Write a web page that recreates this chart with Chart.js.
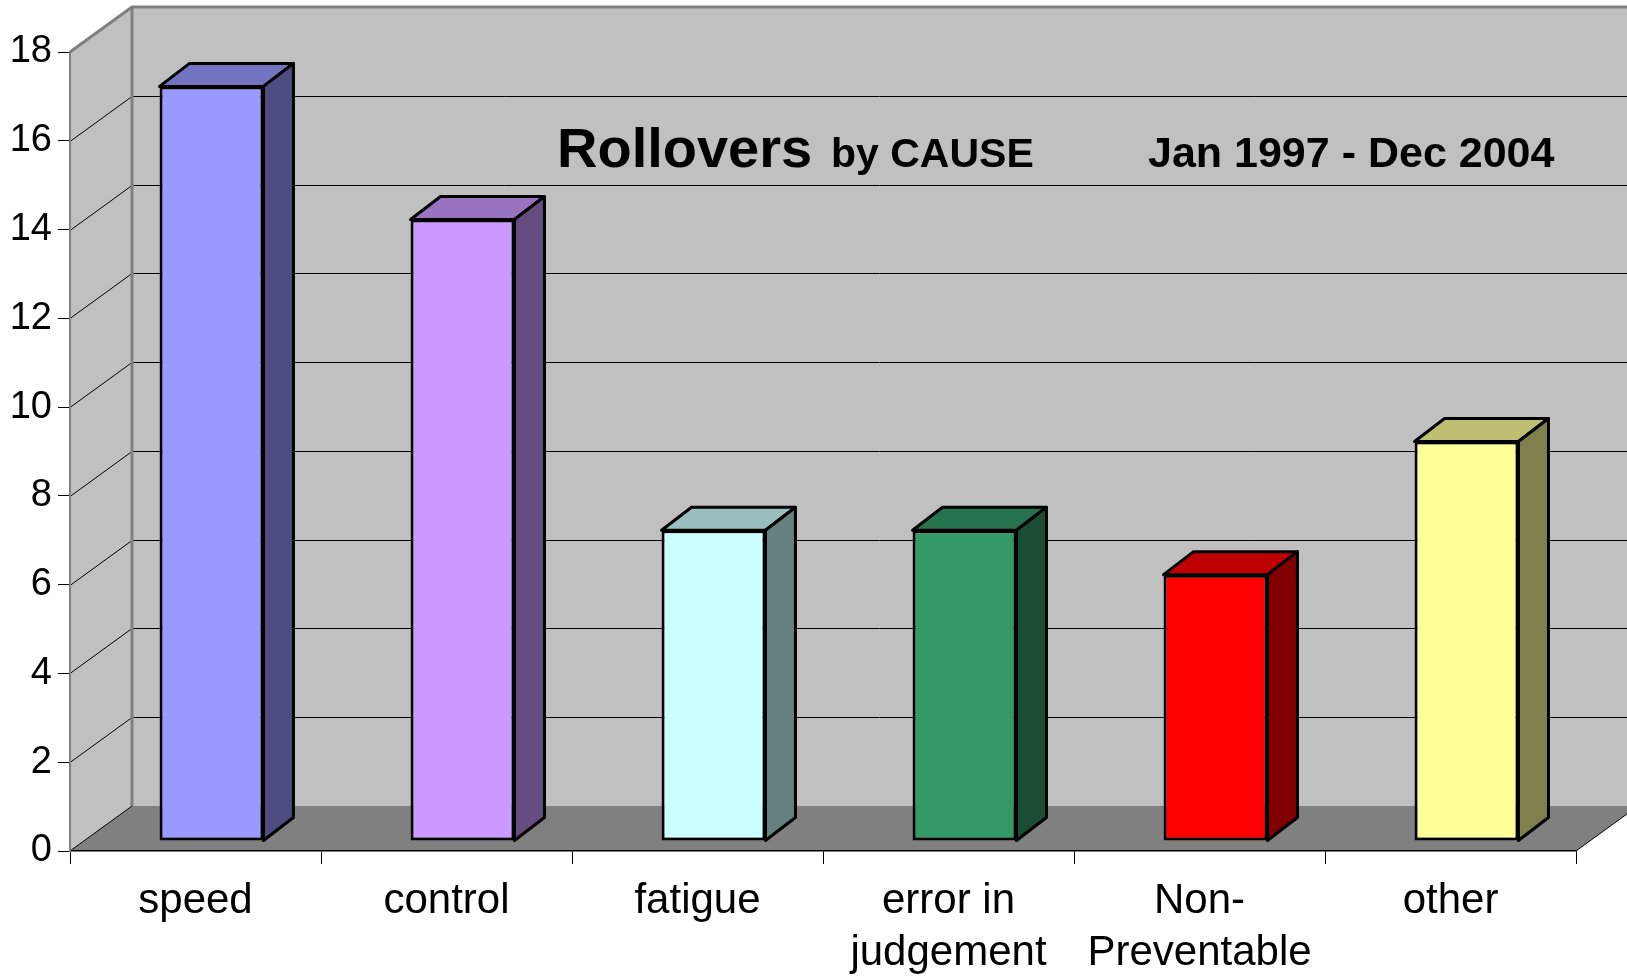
<!DOCTYPE html>
<html>
<head>
<meta charset="utf-8">
<script src="https://cdn.jsdelivr.net/npm/chart.js@4"></script>
<style>
body { margin: 0; background: #fff; }
#canvas { display: block; }
</style>
</head>
<body>
<canvas id="canvas" width="1627" height="976" style="width:1627px;height:976px"></canvas>
<script>
var causes = [ "speed", "control", "fatigue", [ "error in", "judgement" ], [ "Non-", "Preventable" ], "other" ];
var rollovers = [ 17, 14, 7, 7, 6, 9 ];
var yTicks = [ 0, 2, 4, 6, 8, 10, 12, 14, 16, 18 ];

var frontColors = [ "#9999ff", "#cc99ff", "#ccffff", "#339966", "#ff0000", "#ffff99" ];
var topColors = [ "#7373bf", "#9973bf", "#99bfbf", "#267350", "#bf0000", "#bfbf73" ];
var sideColors = [ "#4d4d80", "#664d80", "#668080", "#1a4d33", "#800000", "#80804d" ];

// depth of the walls / floor and of the bars
var wallDx = 62, wallDy = 45;
var barShiftX = 16, barShiftY = 10;
var barDx = 30, barDy = 23;

var walls = {
	id : 'walls',
	beforeDraw : function(chart) {
		var ctx = chart.ctx;
		var a = chart.chartArea;
		var y = chart.scales.y;
		ctx.save();
		ctx.fillStyle = '#fff';
		ctx.fillRect(0, 0, chart.width, chart.height);

		// back wall
		ctx.fillStyle = '#c0c0c0';
		ctx.fillRect(a.left + wallDx, a.top - wallDy, chart.width, a.bottom - a.top);
		// side wall
		ctx.beginPath();
		ctx.moveTo(a.left, a.top);
		ctx.lineTo(a.left + wallDx, a.top - wallDy);
		ctx.lineTo(a.left + wallDx, a.bottom - wallDy);
		ctx.lineTo(a.left, a.bottom);
		ctx.closePath();
		ctx.fill();
		// floor
		ctx.fillStyle = '#808080';
		ctx.beginPath();
		ctx.moveTo(a.left, a.bottom);
		ctx.lineTo(a.left + wallDx, a.bottom - wallDy);
		ctx.lineTo(chart.width + 20, a.bottom - wallDy);
		ctx.lineTo(a.right + wallDx, a.bottom - wallDy);
		ctx.lineTo(a.right, a.bottom);
		ctx.closePath();
		ctx.fill();

		// grid lines on the walls
		ctx.strokeStyle = '#000';
		ctx.lineWidth = 1;
		yTicks.forEach(function(v) {
			if (v === 0 || v === 18)
				return;
			var py = Math.round(y.getPixelForValue(v)) + 0.5;
			ctx.beginPath();
			ctx.moveTo(a.left, py);
			ctx.lineTo(a.left + wallDx, py - wallDy);
			ctx.lineTo(chart.width, py - wallDy);
			ctx.stroke();
		});
		ctx.beginPath();
		ctx.moveTo(a.left, a.bottom);
		ctx.lineTo(a.left + wallDx, a.bottom - wallDy);
		ctx.moveTo(a.right, a.bottom);
		ctx.lineTo(a.right + wallDx, a.bottom - wallDy);
		ctx.stroke();

		// wall edges
		ctx.strokeStyle = '#808080';
		ctx.lineWidth = 3;
		ctx.beginPath();
		ctx.moveTo(a.left, a.top);
		ctx.lineTo(a.left + wallDx, a.top - wallDy);
		ctx.lineTo(chart.width, a.top - wallDy);
		ctx.moveTo(a.left + wallDx, a.top - wallDy);
		ctx.lineTo(a.left + wallDx, a.bottom - wallDy);
		ctx.stroke();
		ctx.restore();
	},
	beforeDatasetsDraw : function(chart) {
		chart.ctx.save();
		chart.ctx.translate(barShiftX, -barShiftY);
	},
	afterDatasetsDraw : function(chart) {
		var ctx = chart.ctx;
		var meta = chart.getDatasetMeta(0);
		ctx.lineWidth = 3;
		ctx.strokeStyle = '#000';
		ctx.lineJoin = 'round';
		meta.data.forEach(function(bar, i) {
			var l = bar.x - bar.width / 2, r = bar.x + bar.width / 2;
			var t = bar.y, b = bar.base;
			ctx.fillStyle = topColors[i];
			ctx.beginPath();
			ctx.moveTo(l, t);
			ctx.lineTo(l + barDx, t - barDy);
			ctx.lineTo(r + barDx, t - barDy);
			ctx.lineTo(r, t);
			ctx.closePath();
			ctx.fill();
			ctx.stroke();
			ctx.fillStyle = sideColors[i];
			ctx.beginPath();
			ctx.moveTo(r, t);
			ctx.lineTo(r + barDx, t - barDy);
			ctx.lineTo(r + barDx, b - barDy);
			ctx.lineTo(r, b);
			ctx.closePath();
			ctx.fill();
			ctx.stroke();
		});
		ctx.restore();
	},
	afterDraw : function(chart) {
		var ctx = chart.ctx;
		ctx.save();
		ctx.fillStyle = '#000';
		ctx.textBaseline = 'alphabetic';
		ctx.font = "bold 56px 'Liberation Sans', Arial, sans-serif";
		ctx.fillText("Rollovers", 557, 167);
		ctx.font = "bold 41px 'Liberation Sans', Arial, sans-serif";
		ctx.fillText("by CAUSE", 831, 167);
		ctx.font = "bold 43px 'Liberation Sans', Arial, sans-serif";
		ctx.fillText("Jan 1997 - Dec 2004", 1148, 167);
		ctx.restore();
	}
};

window.onload = function() {
	Chart.defaults.font.family = "'Liberation Sans', Arial, sans-serif";
	Chart.defaults.color = '#000';
	var ctx = document.getElementById("canvas").getContext("2d");
	window.myBar = new Chart(ctx, {
		type : 'bar',
		data : {
			labels : causes,
			datasets : [ {
				label : "Rollovers",
				data : rollovers,
				backgroundColor : frontColors,
				borderColor : '#000',
				borderWidth : 3,
				borderSkipped : false,
				categoryPercentage : 1,
				barPercentage : 0.414,
				clip : false
			} ]
		},
		options : {
			responsive : false,
			devicePixelRatio : 1,
			animation : false,
			layout : {
				padding : { top : 52, right : 51, left : 0, bottom : 0 }
			},
			plugins : {
				legend : { display : false },
				title : { display : false },
				tooltip : { enabled : false }
			},
			scales : {
				x : {
					grid : {
						drawOnChartArea : false,
						tickLength : 13,
						tickColor : '#000',
						tickWidth : 1
					},
					border : { color : '#000', width : 1.5 },
					ticks : {
						font : { size : 42, lineHeight : 1.24 },
						padding : 11,
						maxRotation : 0,
						autoSkip : false
					},
					afterFit : function(scale) {
						scale.height = 125;
					}
				},
				y : {
					min : 0,
					max : 18,
					grid : {
						drawOnChartArea : false,
						tickLength : 12,
						tickColor : '#000',
						tickWidth : 1
					},
					border : { color : '#808080', width : 2 },
					ticks : {
						stepSize : 2,
						font : { size : 38 },
						padding : 6
					},
					afterFit : function(scale) {
						scale.width = 70;
					}
				}
			}
		},
		plugins : [ walls ]
	});
};
</script>
</body>
</html>
